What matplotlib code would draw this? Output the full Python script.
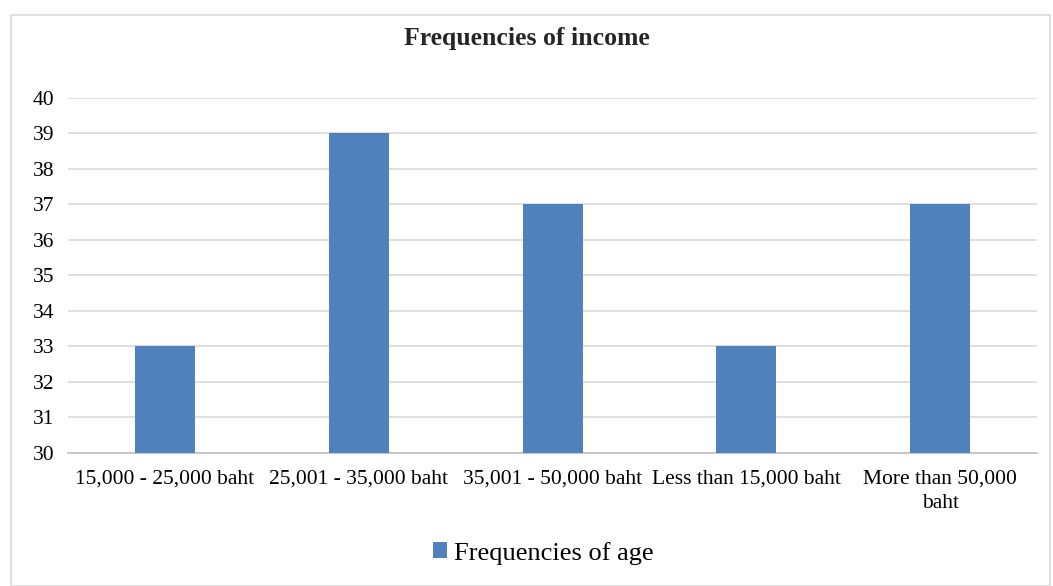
import matplotlib.pyplot as plt
from matplotlib.patches import Rectangle
import numpy as np

plt.rcParams['font.family'] = ['Liberation Serif', 'DejaVu Serif']

categorias = ["15,000 - 25,000 baht", "25,001 - 35,000 baht", "35,001 - 50,000 baht",
              "Less than 15,000 baht", "More than 50,000\nbaht"]
frecuencias = [33, 39, 37, 33, 37]
yticks = list(range(30, 41))

fig = plt.figure(figsize=(10.53, 5.86), dpi=100)
ax = fig.add_axes([0.0646, 0.227, 0.9204, 0.606])

# marco del grafico
fig.patches.append(Rectangle((0.0105, 0.0), 0.987, 0.974, transform=fig.transFigure,
                             fill=False, edgecolor='#d9d9d9', linewidth=1.2))

x = np.arange(len(categorias))
ax.bar(x, frecuencias, width=0.31, color='#4f81bd', label='Frequencies of age', zorder=3)

ax.set_xlim(-0.5, len(categorias) - 0.5)
ax.set_ylim(30, 40)
ax.set_yticks(yticks)
ax.set_xticks(x)
ax.set_xticklabels(categorias, fontsize=15.5, linespacing=1.35)
ax.tick_params(axis='y', labelsize=15.5, length=0, pad=10)
ax.tick_params(axis='x', length=0, pad=12)
ax.grid(axis='y', color='#d9d9d9', linewidth=1.2, zorder=0)
for s in ['top', 'right', 'left']:
    ax.spines[s].set_visible(False)
ax.spines['bottom'].set_color('#bfbfbf')
ax.spines['bottom'].set_linewidth(1.2)

fig.text(0.5, 0.935, "Frequencies of income", ha='center', va='center',
         fontsize=18.5, fontweight='bold', color='#262626')

fig.legend(loc='center', bbox_to_anchor=(0.516, 0.056), frameon=False, fontsize=19,
           handlelength=0.55, handleheight=0.55, handletextpad=0.25)

fig.savefig('out.png', dpi=100)
